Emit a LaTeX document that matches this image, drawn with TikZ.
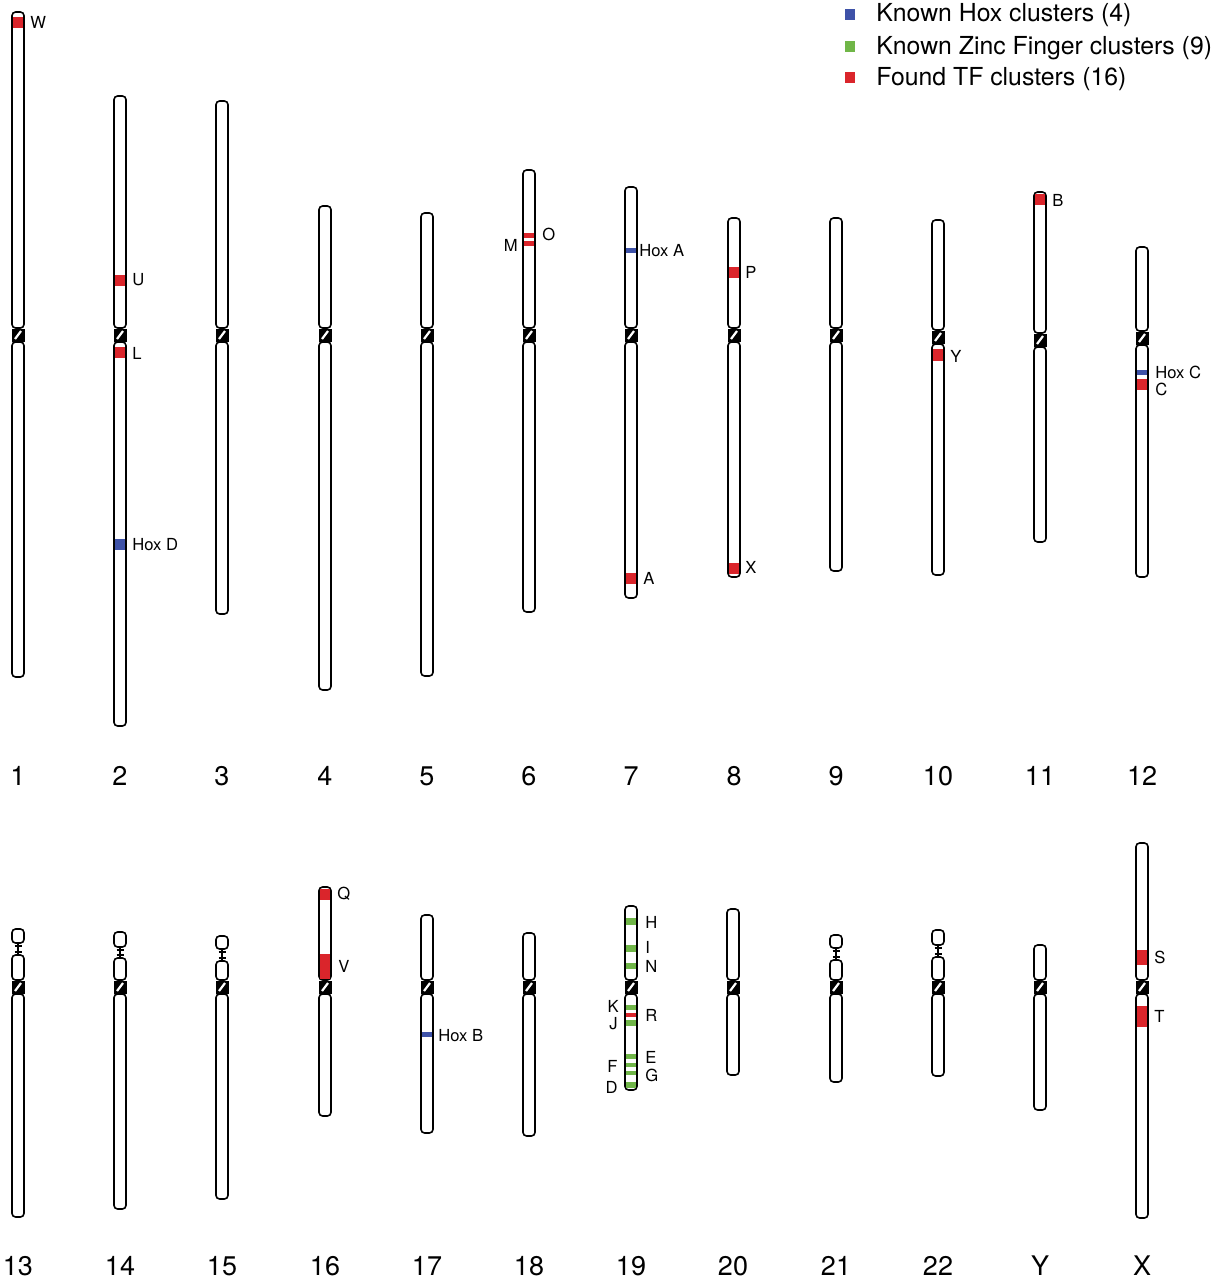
\documentclass[tikz,border=0pt]{standalone}
\usepackage{fontspec}
\setmainfont{TeX Gyre Heros}
\usepackage{tikz}

\definecolor{tfred}{RGB}{218,37,43}
\definecolor{hoxblue}{RGB}{62,82,168}
\definecolor{zfgreen}{RGB}{112,182,72}

% chromosome: name, x, top, centromere, bottom, label row
\newcommand{\chrom}[6]{%
  \draw[arm] (#2-6,#3) rectangle (#2+6,#4-7);
  \draw[arm] (#2-6,#4+7) rectangle (#2+6,#5);
  \fill[black] (#2-6.5,#4-6.5) rectangle (#2+6.5,#4+6.5);
  \draw[white,line width=1.1pt] (#2-3,#4+4) -- (#2+3,#4-4);
  \node[num label] (n#1) at (#2,#6) {#1};
}
% satellite and stalk of an acrocentric chromosome: x, top, bottom, p-arm top
\newcommand{\satel}[4]{%
  \draw[arm] (#1-6,#2) rectangle (#1+6,#3);
  \draw[stalk] (#1,#3) -- (#1,#4) (#1-3.5,#3+3) -- (#1+3.5,#3+3) (#1-3.5,#4-3) -- (#1+3.5,#4-3);
}
% band: colour, x, from, to
\newcommand{\band}[4]{\fill[#1] (#2-5.2,#3) rectangle (#2+5.2,#4);}

\begin{document}
\begin{tikzpicture}[x=0.5pt,y=-0.5pt,
    arm/.style={draw=black,fill=white,line width=0.8pt,rounded corners=1.8pt},
    stalk/.style={draw=black,line width=0.6pt},
    num label/.style={font=\fontsize{13.5}{14}\selectfont,inner sep=0pt},
    band label/.style={font=\fontsize{8.3}{9}\selectfont,inner sep=0pt},
    legend text/.style={font=\fontsize{12.4}{13}\selectfont,inner sep=0pt,anchor=west}]

  \useasboundingbox (0,0) rectangle (1214,1280);

  % top row
  \chrom{1}{18}{12}{335}{677}{776}
  \chrom{2}{120}{96}{335}{726}{776}
  \chrom{3}{222}{101}{335}{614}{776}
  \chrom{4}{325}{206}{335}{690}{776}
  \chrom{5}{427}{213}{335}{676}{776}
  \chrom{6}{529}{170}{335}{612}{776}
  \chrom{7}{631}{187}{335}{598}{776}
  \chrom{8}{734}{218}{335}{577}{776}
  \chrom{9}{836}{218}{335}{571}{776}
  \chrom{10}{938}{220}{337}{575}{776}
  \chrom{11}{1040}{192}{340}{542}{776}
  \chrom{12}{1142}{247}{338}{577}{776}

  % bottom row
  \satel{18}{929}{943}{955}
  \chrom{13}{18}{955}{987}{1217}{1266}
  \satel{120}{932}{947}{958}
  \chrom{14}{120}{958}{987}{1209}{1266}
  \satel{222}{936}{949}{961}
  \chrom{15}{222}{961}{987}{1199}{1266}
  \chrom{16}{325}{887}{987}{1116}{1266}
  \chrom{17}{427}{915}{987}{1133}{1266}
  \chrom{18}{529}{933}{987}{1136}{1266}
  \chrom{19}{631}{906}{987}{1090}{1266}
  \chrom{20}{733}{909}{987}{1075}{1266}
  \satel{836}{935}{948}{960}
  \chrom{21}{836}{960}{987}{1082}{1266}
  \satel{938}{930}{945}{957}
  \chrom{22}{938}{957}{987}{1076}{1266}
  \chrom{Y}{1040}{945}{987}{1110}{1266}
  \chrom{X}{1142}{843}{987}{1218}{1266}

  % Hox clusters
  \band{hoxblue}{120}{539}{550}
  \band{hoxblue}{631}{248}{253}
  \band{hoxblue}{1142}{370}{375}
  \band{hoxblue}{427}{1032}{1037}

  % zinc finger clusters
  \band{zfgreen}{631}{918}{925}
  \band{zfgreen}{631}{945}{952}
  \band{zfgreen}{631}{963}{969}
  \band{zfgreen}{631}{1005}{1010}
  \band{zfgreen}{631}{1020}{1026}
  \band{zfgreen}{631}{1054}{1059}
  \band{zfgreen}{631}{1063}{1067}
  \band{zfgreen}{631}{1071}{1075}
  \band{zfgreen}{631}{1082}{1088}

  % found TF clusters
  \band{tfred}{18}{17}{28}
  \band{tfred}{120}{275}{286}
  \band{tfred}{120}{347}{358}
  \band{tfred}{529}{233}{238}
  \band{tfred}{529}{241}{246}
  \band{tfred}{631}{573}{584}
  \band{tfred}{734}{267}{278}
  \band{tfred}{734}{563}{574}
  \band{tfred}{938}{349}{361}
  \band{tfred}{1040}{194}{205}
  \band{tfred}{1142}{379}{390}
  \band{tfred}{325}{889}{900}
  \band{tfred}{325}{954}{979}
  \band{tfred}{631}{1013}{1017}
  \band{tfred}{1142}{950}{965}
  \band{tfred}{1142}{1006}{1027}

  % band labels
  \node[band label,anchor=west] (lW) at (30,22) {W};
  \node[band label,anchor=west] (lU) at (132,280) {U};
  \node[band label,anchor=west] (lL) at (132,353) {L};
  \node[band label,anchor=west] (lHoxD) at (132,545) {Hox D};
  \node[band label,anchor=west] (lO) at (542,234) {O};
  \node[band label,anchor=east] (lM) at (518,245) {M};
  \node[band label,anchor=west] (lHoxA) at (639,251) {Hox A};
  \node[band label,anchor=west] (lA) at (643,578) {A};
  \node[band label,anchor=west] (lP) at (745,272) {P};
  \node[band label,anchor=west] (lX) at (745,567) {X};
  \node[band label,anchor=west] (lY) at (950,356) {Y};
  \node[band label,anchor=west] (lB) at (1052,200) {B};
  \node[band label,anchor=west] (lHoxC) at (1155,372) {Hox C};
  \node[band label,anchor=west] (lC) at (1155,389) {C};
  \node[band label,anchor=west] (lQ) at (337,894) {Q};
  \node[band label,anchor=west] (lV) at (338,966) {V};
  \node[band label,anchor=west] (lHoxB) at (438,1036) {Hox B};
  \node[band label,anchor=west] (lH) at (645,922) {H};
  \node[band label,anchor=west] (lI) at (645,947) {I};
  \node[band label,anchor=west] (lN) at (645,966) {N};
  \node[band label,anchor=east] (lK) at (619,1006) {K};
  \node[band label,anchor=east] (lJ) at (618,1024) {J};
  \node[band label,anchor=west] (lR) at (645,1015) {R};
  \node[band label,anchor=west] (lE) at (645,1057) {E};
  \node[band label,anchor=east] (lF) at (618,1066) {F};
  \node[band label,anchor=west] (lG) at (645,1075) {G};
  \node[band label,anchor=east] (lD) at (618,1087) {D};
  \node[band label,anchor=west] (lS) at (1154,957) {S};
  \node[band label,anchor=west] (lT) at (1154,1016) {T};

  % legend
  \fill[hoxblue] (845,9) rectangle (855,20);
  \fill[zfgreen] (845,41) rectangle (855,52);
  \fill[tfred] (845,72) rectangle (855,83);
  \node[legend text] (kHox) at (876,15) {Known Hox clusters (4)};
  \node[legend text] (kZinc) at (876,48) {Known Zinc Finger clusters (9)};
  \node[legend text] (kTF) at (876,79) {Found TF clusters (16)};

\end{tikzpicture}
\end{document}
